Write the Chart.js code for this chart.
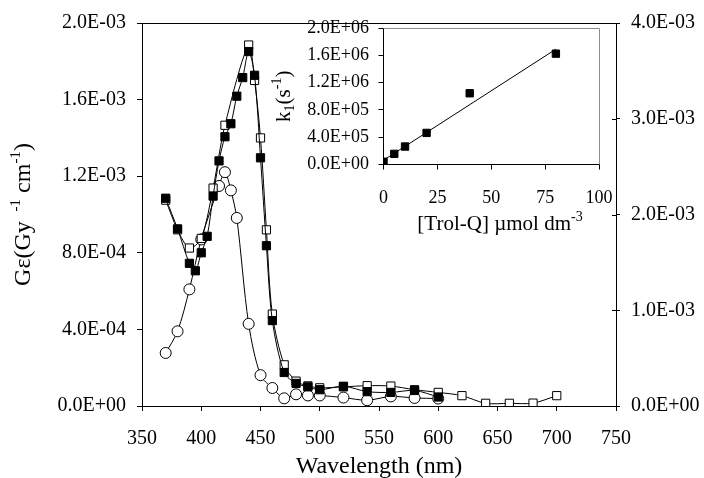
<!DOCTYPE html>
<html><head><meta charset="utf-8">
<script src="https://cdn.jsdelivr.net/npm/chart.js@4.4.0/dist/chart.umd.min.js"></script>
<style>
html,body{margin:0;padding:0;background:#fff;}
#wrap{position:relative;width:704px;height:478px;background:#fff;}
#wrap canvas{position:absolute;left:0;top:0;}
</style></head><body>
<div id="wrap"><canvas id="main" width="704" height="478"></canvas><canvas id="inset" width="704" height="478"></canvas></div>
<script>
// ---- main chart data (wavelength in nm, G·epsilon in Gy^-1 cm^-1) ----
const filledWavelengths = [370,380,390,395,400,405,410,415,420,425,430,435,440,445,450,455,460,470,480,490,500,520,540,560,580,600];
const filledValues = [1.085e-3,9.25e-4,7.45e-4,7.06e-4,8.0e-4,8.86e-4,1.096e-3,1.28e-3,1.406e-3,1.474e-3,1.618e-3,1.715e-3,1.851e-3,1.727e-3,1.296e-3,8.37e-4,4.46e-4,1.75e-4,1.18e-4,1.0e-4,8.5e-5,1.03e-4,7.5e-5,7.1e-5,8.1e-5,4.7e-5];
const openWavelengths = [370,380,390,400,410,420,440,445,450,455,460,470,480,490,500,520,540,560,580,600,620,640,660,680,700];
const openValues = [1.075e-3,9.2e-4,8.25e-4,8.75e-4,1.138e-3,1.466e-3,1.885e-3,1.70e-3,1.40e-3,9.2e-4,4.8e-4,2.15e-4,1.3e-4,1.05e-4,9.5e-5,1.0e-4,1.06e-4,1.04e-4,8.5e-5,7.1e-5,5.4e-5,1.4e-5,1.4e-5,1.5e-5,5.4e-5];
const circleWavelengths = [370,380,390,400,415,420,425,430,440,450,460,470,480,490,500,520,540,560,580,600];
const circleValues = [2.77e-4,3.9e-4,6.09e-4,8.7e-4,1.149e-3,1.221e-3,1.126e-3,9.82e-4,4.29e-4,1.61e-4,9.4e-5,4.0e-5,6.1e-5,5.5e-5,5.5e-5,4.4e-5,3.0e-5,5.0e-5,4.2e-5,3.9e-5];
const xTicks = [350,400,450,500,550,600,650,700,750];
const leftTicks = [0,0.0004,0.0008,0.0012,0.0016,0.002];
const rightTicks = [0,0.001,0.002,0.003,0.004];

// ---- inset data ([Trol-Q] in umol dm^-3, k1 in s^-1) ----
const insetConc = [0,5,10,20,40,80];
const insetK = [4.0e4,1.56e5,2.63e5,4.63e5,1.044e6,1.624e6];
const fitConc = [0,80];
const fitK = [6.3e4,1.69e6];
const insetXTicks = [0,25,50,75,100];
const insetYTicks = [0,4e5,8e5,1.2e6,1.6e6,2e6];

const FONT = "'Liberation Serif','Times New Roman',Times,serif";
Chart.defaults.font.family = FONT;
Chart.defaults.color = '#000';
Chart.defaults.animation = false;

function sci(v){
  if (Math.abs(v) < 1e-15) return '0.0E+00';
  let e = Math.floor(Math.log10(Math.abs(v)) + 1e-9);
  let m = v / Math.pow(10, e);
  if (Math.round(m*10)/10 >= 10) { m /= 10; e++; }
  return m.toFixed(1) + 'E' + (e < 0 ? '-' : '+') + String(Math.abs(e)).padStart(2,'0');
}
function fixTicks(arr){ return function(scale){ scale.ticks = arr.map(v => ({value: v})); }; }
function pts(xs, ys){ return xs.map((x,i) => ({x: x, y: ys[i]})); }

// draws a run of text pieces (with super/subscripts) centred on (0,0) baseline
function drawRich(ctx, parts){
  let total = 0;
  parts.forEach(p => { ctx.font = p.size + 'px ' + FONT; p.w = ctx.measureText(p.t).width; total += p.w; });
  let x = -total/2;
  ctx.textBaseline = 'alphabetic';
  ctx.textAlign = 'left';
  ctx.fillStyle = '#000';
  parts.forEach(p => { ctx.font = p.size + 'px ' + FONT; ctx.fillText(p.t, x, p.dy || 0); x += p.w; });
}

const mainDecor = {
  id: 'mainDecor',
  afterDraw(chart){
    const ctx = chart.ctx, a = chart.chartArea;
    ctx.save();
    ctx.strokeStyle = '#000'; ctx.lineWidth = 1;
    ctx.beginPath(); ctx.moveTo(a.left, a.top + 0.5); ctx.lineTo(a.right, a.top + 0.5); ctx.stroke();
    const y2 = chart.scales.y2;
    rightTicks.forEach(v => { const py = Math.round(y2.getPixelForValue(v)) + 0.5; ctx.beginPath(); ctx.moveTo(a.right - 4, py); ctx.lineTo(a.right, py); ctx.stroke(); });
    // x title
    ctx.save(); ctx.translate((a.left + a.right)/2, 473);
    drawRich(ctx, [{t:'Wavelength (nm)', size:24}]);
    ctx.restore();
    // y title
    ctx.save(); ctx.translate(30, (a.top + a.bottom)/2); ctx.rotate(-Math.PI/2);
    drawRich(ctx, [{t:'G\u03B5(Gy ', size:24}, {t:' -1', size:15, dy:-10}, {t:' cm', size:24}, {t:'-1', size:15, dy:-10}, {t:')', size:24}]);
    ctx.restore();
    ctx.restore();
  }
};

new Chart(document.getElementById('main'), {
  type: 'scatter',
  data: { datasets: [
    { data: pts(filledWavelengths, filledValues), showLine: true, borderColor: '#000', borderWidth: 1,
      pointStyle: 'rect', pointRadius: 5.8, pointBackgroundColor: '#000', pointBorderColor: '#000', pointBorderWidth: 1, tension: 0.3, yAxisID: 'y' },
    { data: pts(openWavelengths, openValues), showLine: true, borderColor: '#000', borderWidth: 1,
      pointStyle: 'rect', pointRadius: 5.8, pointBackgroundColor: '#fff', pointBorderColor: '#000', pointBorderWidth: 1, tension: 0.3, yAxisID: 'y' },
    { data: pts(circleWavelengths, circleValues), showLine: true, borderColor: '#000', borderWidth: 1,
      pointStyle: 'circle', pointRadius: 5.5, pointBackgroundColor: '#fff', pointBorderColor: '#000', pointBorderWidth: 1, tension: 0.3, yAxisID: 'y' }
  ]},
  options: {
    responsive: false, animation: false,
    layout: { padding: { top: 9, left: 0, right: 0, bottom: 0 } },
    plugins: { legend: { display: false }, tooltip: { enabled: false } },
    scales: {
      x: { type: 'linear', min: 350, max: 750, afterBuildTicks: fixTicks(xTicks), afterFit(s){ s.height = 72; },
           grid: { drawOnChartArea: false, tickLength: 5, color: '#000' }, border: { color: '#000', width: 1 },
           ticks: { font: { size: 20 }, padding: 16, maxRotation: 0, autoSkip: false, color: '#000' } },
      y: { type: 'linear', position: 'left', min: 0, max: 0.002, afterBuildTicks: fixTicks(leftTicks), afterFit(s){ s.width = 142; },
           grid: { drawOnChartArea: false, tickLength: 5, color: '#000' }, border: { color: '#000', width: 1 },
           ticks: { font: { size: 20 }, padding: 11, color: '#000', callback: v => sci(v) } },
      y2: { type: 'linear', position: 'right', min: 0, max: 0.004, afterBuildTicks: fixTicks(rightTicks), afterFit(s){ s.width = 88; },
           grid: { drawOnChartArea: false, tickLength: 4, color: '#000' }, border: { color: '#000', width: 1 },
           ticks: { font: { size: 20 }, padding: 11, color: '#000', callback: v => sci(v) } }
    }
  },
  plugins: [mainDecor]
});

const insetDecor = {
  id: 'insetDecor',
  afterDraw(chart){
    const ctx = chart.ctx, a = chart.chartArea;
    ctx.save();
    ctx.strokeStyle = '#8c8c8c'; ctx.lineWidth = 1;
    ctx.beginPath(); ctx.moveTo(a.left, a.top + 0.5); ctx.lineTo(a.right + 0.5, a.top + 0.5); ctx.lineTo(a.right + 0.5, a.bottom); ctx.stroke();
    ctx.save(); ctx.translate(500, 230);
    drawRich(ctx, [{t:'[Trol-Q] \u00B5mol dm', size:21}, {t:'-3', size:14, dy:-9}]);
    ctx.restore();
    ctx.save(); ctx.translate(290, (a.top + a.bottom)/2); ctx.rotate(-Math.PI/2);
    drawRich(ctx, [{t:'k', size:21}, {t:'1', size:14, dy:4}, {t:'(s', size:21}, {t:'-1', size:14, dy:-9}, {t:')', size:21}]);
    ctx.restore();
    ctx.restore();
  }
};

new Chart(document.getElementById('inset'), {
  type: 'scatter',
  data: { datasets: [
    { data: pts(insetConc, insetK), showLine: false, pointStyle: 'rect', pointRadius: 5.2,
      pointBackgroundColor: '#000', pointBorderColor: '#000', pointBorderWidth: 1 },
    { data: pts(fitConc, fitK), showLine: true, borderColor: '#000', borderWidth: 1, pointRadius: 0 }
  ]},
  options: {
    responsive: false, animation: false,
    layout: { padding: { top: 28, left: 0, right: 105, bottom: 0 } },
    plugins: { legend: { display: false }, tooltip: { enabled: false } },
    scales: {
      x: { type: 'linear', min: 0, max: 100, afterBuildTicks: fixTicks(insetXTicks), afterFit(s){ s.height = 313.5; },
           grid: { drawOnChartArea: false, tickLength: 5, color: '#000' }, border: { color: '#000', width: 1 },
           ticks: { font: { size: 18 }, padding: 18, maxRotation: 0, autoSkip: false, color: '#000' } },
      y: { type: 'linear', position: 'left', min: 0, max: 2e6, afterBuildTicks: fixTicks(insetYTicks), afterFit(s){ s.width = 383.5; },
           grid: { drawOnChartArea: false, tickLength: 5, color: '#000' }, border: { color: '#000', width: 1 },
           ticks: { font: { size: 18 }, padding: 9.5, color: '#000', callback: v => sci(v) } }
    }
  },
  plugins: [insetDecor]
});
</script>
</body></html>
